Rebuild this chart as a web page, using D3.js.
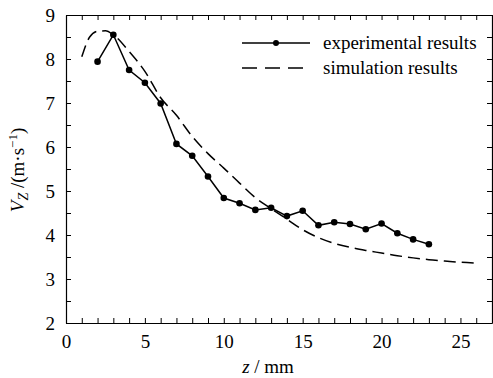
<!DOCTYPE html>
<html>
<head>
  <meta charset="utf-8">
  <style>
    body { margin: 0; background: #fff; }
  </style>
</head>
<body>
<div id="chart"></div>
<script src="https://d3js.org/d3.v7.min.js"></script>
<script>
// experimental results
const expZ = [2, 3, 4, 5, 6, 7, 8, 9, 10, 11, 12, 13, 14, 15, 16, 17, 18, 19, 20, 21, 22, 23];
const expV = [7.94, 8.55, 7.75, 7.46, 6.99, 6.07, 5.80, 5.33, 4.84, 4.72, 4.57, 4.62, 4.43, 4.55, 4.22, 4.29, 4.25, 4.13, 4.26, 4.04, 3.90, 3.79];

// simulation results
const simZ = [1, 1.5, 2, 2.5, 3, 4, 5, 6, 7, 8, 9, 10, 11, 12, 13, 14, 15, 16, 17, 18, 19, 20, 21, 22, 23, 24, 25, 26];
const simV = [8.05, 8.50, 8.63, 8.64, 8.55, 8.17, 7.72, 7.12, 6.72, 6.24, 5.85, 5.52, 5.18, 4.85, 4.60, 4.36, 4.12, 3.94, 3.81, 3.72, 3.65, 3.59, 3.53, 3.48, 3.44, 3.41, 3.38, 3.36];

const xTicks = [0, 5, 10, 15, 20, 25];
const yTicks = [2, 3, 4, 5, 6, 7, 8, 9];

const FONT = '"Liberation Serif", serif';
const FS = '19px';

const width = 493, height = 378;
const margin = {top: 15, right: 1, bottom: 55, left: 66};

const svg = d3.select('#chart').append('svg')
  .attr('width', width)
  .attr('height', height);

const x = d3.scaleLinear().domain([0, 27]).range([margin.left, width - margin.right]);
const y = d3.scaleLinear().domain([2, 9]).range([height - margin.bottom, margin.top]);

const minorX = d3.range(0, 28, 1);
const minorY = d3.range(2, 9.01, 0.5);

function styleAxis(g) {
  g.selectAll('path').attr('stroke', '#000').attr('stroke-width', 1.2);
  g.selectAll('line').attr('stroke', '#000').attr('stroke-width', 1);
  g.selectAll('text').style('font-family', FONT).style('font-size', FS).attr('fill', '#000');
}

// bottom
svg.append('g')
  .attr('transform', `translate(0,${y(2)})`)
  .call(d3.axisBottom(x).tickValues(minorX).tickSize(-5).tickSizeOuter(0)
    .tickFormat(d => xTicks.includes(d) ? d : '').tickPadding(12))
  .call(styleAxis);
// top
svg.append('g')
  .attr('transform', `translate(0,${y(9)})`)
  .call(d3.axisTop(x).tickValues(minorX).tickSize(-5).tickSizeOuter(0).tickFormat(''))
  .call(styleAxis);
// left
svg.append('g')
  .attr('transform', `translate(${x(0)},0)`)
  .call(d3.axisLeft(y).tickValues(minorY).tickSize(-5).tickSizeOuter(0)
    .tickFormat(d => yTicks.includes(d) ? d : '').tickPadding(11))
  .call(styleAxis);
// right
svg.append('g')
  .attr('transform', `translate(${x(27)},0)`)
  .call(d3.axisRight(y).tickValues(minorY).tickSize(-5).tickSizeOuter(0).tickFormat(''))
  .call(styleAxis);

const sim = simZ.map((z, i) => [z, simV[i]]);
const exp = expZ.map((z, i) => [z, expV[i]]);

svg.append('path')
  .datum(sim)
  .attr('fill', 'none')
  .attr('stroke', '#000')
  .attr('stroke-width', 1.5)
  .attr('stroke-dasharray', '12,6')
  .attr('d', d3.line().x(d => x(d[0])).y(d => y(d[1])).curve(d3.curveMonotoneX));

svg.append('path')
  .datum(exp)
  .attr('fill', 'none')
  .attr('stroke', '#000')
  .attr('stroke-width', 1.5)
  .attr('d', d3.line().x(d => x(d[0])).y(d => y(d[1])));

svg.selectAll('.pt')
  .data(exp)
  .enter()
  .append('circle')
  .attr('cx', d => x(d[0]))
  .attr('cy', d => y(d[1]))
  .attr('r', 3.3)
  .attr('fill', '#000');

// legend
const lg = svg.append('g');
lg.append('line').attr('x1', 242).attr('x2', 310).attr('y1', 43).attr('y2', 43)
  .attr('stroke', '#000').attr('stroke-width', 1.5);
lg.append('circle').attr('cx', 276).attr('cy', 43).attr('r', 3).attr('fill', '#000');
lg.append('line').attr('x1', 242).attr('x2', 310).attr('y1', 68).attr('y2', 68)
  .attr('stroke', '#000').attr('stroke-width', 1.5).attr('stroke-dasharray', '15,8');
lg.append('text').attr('x', 323).attr('y', 49).text('experimental results');
lg.append('text').attr('x', 323).attr('y', 74).text('simulation results');
lg.selectAll('text').style('font-family', FONT).style('font-size', FS);

// x label
const xl = svg.append('text')
  .attr('x', 268).attr('y', 373)
  .attr('text-anchor', 'middle')
  .style('font-family', FONT).style('font-size', FS);
xl.append('tspan').style('font-style', 'italic').text('z');
xl.append('tspan').text(' / mm');

// y label
const yl = svg.append('text')
  .attr('transform', 'translate(24,170) rotate(-90)')
  .attr('text-anchor', 'middle')
  .style('font-family', FONT).style('font-size', FS);
yl.append('tspan').style('font-style', 'italic').text('V');
yl.append('tspan').style('font-style', 'italic').style('font-size', '14px').attr('dy', 4).text('Z');
yl.append('tspan').attr('dy', -4).text(' /(m·s');
yl.append('tspan').style('font-size', '13px').attr('dy', -7).text('−1');
yl.append('tspan').attr('dy', 7).text(')');
</script>
</body>
</html>
